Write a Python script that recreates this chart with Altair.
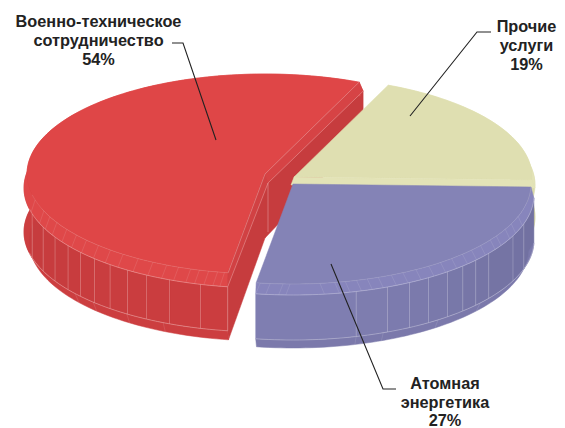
import math
import altair as alt

categories = ["Военно-техническое сотрудничество", "Прочие услуги", "Атомная энергетика"]
shares = [54, 19, 27]
start_angle = 188.9
centres = [(265, 174), (294, 177), (293, 184)]
top_cols = ["#DF4647", "#DFDFB1", "#8483B6"]
bevel_cols = ["#DF4849", "#E3E3B7", "#8785BC"]
side_cols = [("#CB3D3F", "#C63C3E"), ("#D8D8A8", "#D8D8A8"), ("#7271A1", "#7F7EB1")]
low_cols = ["#CC3E40", "#D8D8A8", "#7B79AB"]
strip_cols = ["#D14143", "#D64345"]
edge_col = "#F3C9C9"
edge_blue = "#D6D6E6"

red_facets = [195.5, 203.3, 209.5, 214.8, 220, 225, 230, 234.8, 240.6, 247, 255]
red_ticks = [255, 248.3, 244.7, 241, 236.4, 232.4, 228.6, 224.4, 220.5, 216.6, 212.2,
             208.1, 204.4, 201.3, 198.2, 196, 193.7, 191.5, 189.8]
red_low = [205, 215, 225.5, 232]
blue_facets = [164.8, 156.9, 151.1, 145.8, 140.1, 135.2, 130.7, 125.7, 114.1, 106.7]
blue_ticks = [187.9, 185.5, 182.4, 180.7, 173.5, 169.9, 167.3, 164.5, 161.8, 159, 155.6,
              152.5, 148.9, 145.2, 141.7, 138.2, 134.6, 131.4, 128, 124, 121.3, 116.9, 113.5, 108.9]
blue_low = [164.8, 158, 143, 129]

label_x = [98.5, 526.5, 445]
label_lines = [["Военно-техническое", "сотрудничество", "54%"],
               ["Прочие", "услуги", "19%"],
               ["Атомная", "энергетика", "27%"]]
label_y = [[22, 41, 60], [27, 46, 65], [384, 403, 421]]
leaders = [[(172, 43), (183, 43), (216, 140)],
           [(491, 32), (477, 32), (410, 116)],
           [(396, 389), (383, 389), (331, 264)]]

RX, RY = 238, 100
bounds = []
a = start_angle
for s in shares:
    bounds.append((a, a + s * 3.6))
    a += s * 3.6
# red runs first from the front, the others follow after a full turn
spans = [bounds[0], (bounds[1][0] - 360, bounds[1][1] - 360), (bounds[2][0] - 360, bounds[2][1] - 360)]


def pt(c, t, off=0, rx=RX, ry=RY):
    r = math.radians(t)
    return (c[0] + rx * math.sin(r), c[1] + off - ry * math.cos(r))


def arc(c, t0, t1, off=0, rx=RX, ry=RY):
    n = max(2, int(abs(t1 - t0) / 1.5) + 1)
    return [pt(c, t0 + (t1 - t0) * i / n, off, rx, ry) for i in range(n + 1)]


def band(c, t0, t1, o0, r0, o1, r1):
    return arc(c, t0, t1, o0, r0) + arc(c, t1, t0, o1, r1)


def mix(c0, c1, f):
    v0 = [int(c0[i:i + 2], 16) for i in (1, 3, 5)]
    v1 = [int(c1[i:i + 2], 16) for i in (1, 3, 5)]
    return "#%02X%02X%02X" % tuple(round(p + (q - p) * f) for p, q in zip(v0, v1))


polys, lines = [], []


def poly(points, col):
    pts = [list(p) for p in points] + [list(points[0])]
    polys.append({"type": "Feature", "properties": {"col": col},
                  "geometry": {"type": "Polygon", "coordinates": [pts]}})


def line(points, col, w=0.7, o=0.55):
    lines.append({"type": "Feature", "properties": {"col": col, "w": w, "o": o},
                  "geometry": {"type": "LineString", "coordinates": [list(p) for p in points]}})


def slice_body(i, t0, t1, facets, ticks, low, offs, edge, vis):
    c = centres[i]
    o_b, o_c, o_d = offs
    vt0, vt1 = vis
    # facets of the rim, shaded from one end to the other
    marks = sorted([vt0, vt1] + [f for f in facets])
    for k in range(len(marks) - 1):
        f = k / max(1, len(marks) - 2)
        poly(band(c, marks[k], marks[k + 1], o_b, RX + 3, o_c, RX + 3), mix(side_cols[i][0], side_cols[i][1], f))
    poly(band(c, vt0, vt1, o_c, RX + 3, o_d, RX - 2), low_cols[i])
    poly(band(c, t0, t1, 0, RX, o_b, RX + 3), bevel_cols[i])
    poly([(c[0], c[1])] + arc(c, t0, t1), top_cols[i])
    for f in facets:
        line([pt(c, f, o_b, RX + 3), pt(c, f, o_c, RX + 3)], edge, 0.6, 0.5)
    for f in low:
        line([pt(c, f, o_c, RX + 3), pt(c, f, o_d, RX - 2)], edge, 0.5, 0.3)
    for f in ticks:
        line([pt(c, f), pt(c, f + (1.0 if f > 180 or f < 0 else -1.0), o_b, RX + 3)], edge, 0.5, 0.3)
    if facets:
        end = min(vt1, 258) if i == 0 else vt1
        line(arc(c, vt0, end, o_c, RX + 3), edge, 0.7, 0.6)
        line(arc(c, vt0, end, 0, RX), edge, 0.5, 0.35)
        line(arc(c, vt0, end, o_b, RX + 3), edge, 0.7, 0.55)


# red slice: two cut faces first, then rim and top
c = centres[0]
t0, t1 = spans[0]
far_top = pt(c, t1)
near_top = pt(c, t0)
poly([c, far_top, (far_top[0] + 4, far_top[1] + 9), (far_top[0] + 4, far_top[1] + 53), (c[0], c[1] + 64)], side_cols[0][1])
slice_body(0, t0, t1, red_facets, red_ticks, red_low, (14, 58, 67), edge_col, (t0, 290))
poly([c, near_top, pt(c, t0, 14, RX + 3), pt(c, t0, 58, RX + 3), pt(c, t0, 67, RX - 2), (c[0], c[1] + 64)], side_cols[0][1])
poly([c, near_top, pt(c, t0, 14, RX + 3), (c[0] + 3, c[1] + 9)], strip_cols[0])
poly([c, far_top, (far_top[0] + 4, far_top[1] + 9), (c[0] + 3, c[1] + 9)], strip_cols[1])
line([c, near_top], edge_col)
line([(c[0] + 3, c[1] + 9), pt(c, t0, 14, RX + 3)], edge_col)
line([c, far_top], edge_col)
line([(c[0] + 3, c[1] + 9), (far_top[0] + 4, far_top[1] + 9)], edge_col)
line([(c[0] + 3, c[1] + 9), (c[0] + 3, c[1] + 58)], edge_col)
line([pt(c, t0, 14, RX + 3), pt(c, t0, 58, RX + 3)], edge_col)

# yellow slice
t0, t1 = spans[1]
slice_body(1, t0, t1, [], [], [], (8, 40, 42), edge_col, (t0, t1 + 8))
c = centres[1]
poly([c, pt(c, t1), pt(c, t1, 8, RX + 3), (c[0] - 3, c[1] + 8)], bevel_cols[1])

# blue slice
t0, t1 = spans[2]
slice_body(2, t0, t1, blue_facets, blue_ticks, blue_low, (11, 56, 64), edge_blue, (t0, t1))

leader_feats = [{"type": "Feature", "properties": {"name": n},
                 "geometry": {"type": "LineString", "coordinates": [list(p) for p in l]}}
                for n, l in zip(categories, leaders)]


def geo(features):
    return alt.Data(values={"type": "FeatureCollection", "features": features},
                    format=alt.DataFormat(property="features", type="json"))


proj = dict(type="identity", scale=1, translate=[-8, -8])

body = alt.Chart(geo(polys)).mark_geoshape(strokeWidth=0.5).encode(
    fill=alt.Fill("properties.col:N", scale=None),
    stroke=alt.Stroke("properties.col:N", scale=None),
).project(**proj)

edges = alt.Chart(geo(lines)).mark_geoshape(filled=False).encode(
    stroke=alt.Stroke("properties.col:N", scale=None),
    strokeWidth=alt.StrokeWidth("properties.w:Q", scale=None),
    opacity=alt.Opacity("properties.o:Q", scale=None),
).project(**proj)

lead = alt.Chart(geo(leader_feats)).mark_geoshape(filled=False, stroke="#222222", strokeWidth=1.1).project(**proj)

rows = []
for x, ls, ys in zip(label_x, label_lines, label_y):
    for l, y in zip(ls, ys):
        rows.append({"x": x - 8, "y": y - 8, "t": l})

text = alt.Chart(alt.Data(values=rows)).mark_text(
    font="Liberation Sans", fontWeight="bold", fontSize=16.3, color="#222222", align="center", baseline="middle"
).encode(
    x=alt.X("x:Q", scale=None, axis=None),
    y=alt.Y("y:Q", scale=None, axis=None),
    text="t:N",
)

chart = alt.layer(body, edges, lead, text).properties(
    width=549, height=424, padding=0, autosize=alt.AutoSizeParams(type="none"), background="white"
).configure_view(stroke=None)

chart.save("out.html", embed_options={"renderer": "svg", "actions": False})
